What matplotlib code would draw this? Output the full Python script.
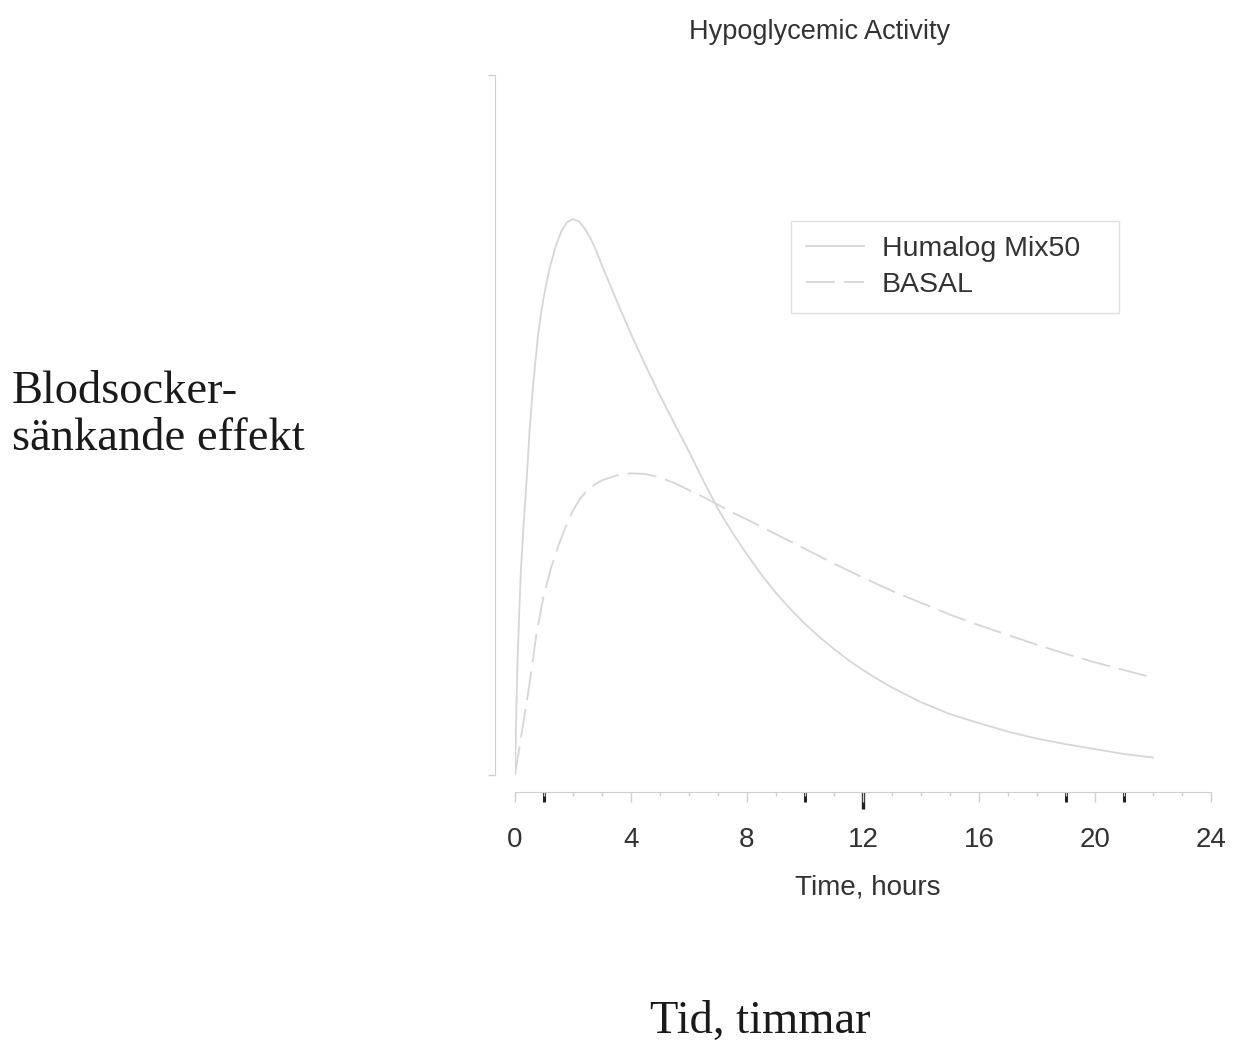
import matplotlib
matplotlib.use("Agg")
import matplotlib.pyplot as plt

# Humalog Mix50 activity
humalog_hours = [0, 0.05, 0.1, 0.2, 0.3, 0.4, 0.5, 0.6, 0.7, 0.8, 0.9, 1.0, 1.2,
                 1.4, 1.6, 1.8, 2.0, 2.2, 2.4, 2.6, 2.8, 3.0, 3.25, 3.5, 4.0, 4.5,
                 5.0, 5.5, 6.0, 6.5, 7.0, 7.5, 8.0, 8.5, 9.0, 9.5, 10, 10.5, 11,
                 11.5, 12, 12.5, 13, 14, 15, 16, 17, 18, 19, 20, 21, 22]
humalog_effect = [0, 0.1, 0.18, 0.29, 0.36, 0.42, 0.49, 0.545, 0.59, 0.63, 0.66,
                  0.685, 0.725, 0.755, 0.777, 0.79, 0.794, 0.791, 0.781, 0.767,
                  0.749, 0.728, 0.703, 0.678, 0.63, 0.585, 0.542, 0.502, 0.462,
                  0.42, 0.38, 0.346, 0.315, 0.286, 0.26, 0.237, 0.216, 0.197,
                  0.18, 0.164, 0.15, 0.137, 0.125, 0.104, 0.087, 0.074, 0.062,
                  0.052, 0.044, 0.037, 0.03, 0.025]

# BASAL activity
basal_hours = [0, 0.25, 0.5, 0.75, 1.0, 1.25, 1.5, 1.75, 2.0, 2.25, 2.5, 2.75, 3.0,
               3.5, 4.0, 4.5, 5.0, 5.5, 6.0, 6.5, 7.0, 7.5, 8.0, 9, 10, 11, 12,
               13, 14, 15, 16, 17, 18, 19, 20, 21, 22]
basal_effect = [0, 0.065, 0.13, 0.205, 0.258, 0.297, 0.328, 0.355, 0.378, 0.395,
                0.407, 0.415, 0.421, 0.428, 0.431, 0.43, 0.425, 0.417, 0.407,
                0.397, 0.386, 0.375, 0.365, 0.344, 0.323, 0.302, 0.282, 0.263,
                0.246, 0.229, 0.214, 0.2, 0.186, 0.173, 0.161, 0.15, 0.139]

x_ticks = [0, 4, 8, 12, 16, 20, 24]
marker_hours = [1, 10, 19, 21]
long_marker_hours = [12]

line_col = "#d6d6d6"
axis_col = "#cfcfcf"
sans = ["Liberation Sans", "DejaVu Sans"]
serif = ["Liberation Serif", "DejaVu Serif"]

fig = plt.figure(figsize=(12.37, 10.46), dpi=100)
ax = fig.add_axes([515 / 1237, 1 - 775 / 1046, 696 / 1237, 700 / 1046])

ax.plot(humalog_hours, humalog_effect, color=line_col, lw=1.3, label="Humalog Mix50")
ax.plot(basal_hours, basal_effect, color=line_col, lw=1.3, dashes=(16, 5), label="BASAL")

ax.set_xlim(0, 24)
ax.set_ylim(0, 1)

for s in ["top", "right"]:
    ax.spines[s].set_visible(False)
ax.spines["left"].set_position(("outward", 14.4))
ax.spines["bottom"].set_position(("axes", -0.0243))
ax.spines["left"].set_color(axis_col)
ax.spines["bottom"].set_color(axis_col)

ax.set_yticks([0, 1])
ax.set_yticklabels([])
ax.tick_params(axis="y", colors=axis_col, length=5, width=1)

ax.set_xticks(x_ticks)
ax.set_xticks(range(0, 25), minor=True)
ax.tick_params(axis="x", which="major", length=7, width=1, color=axis_col,
               labelcolor="#333333", labelsize=20, pad=18.5)
ax.tick_params(axis="x", which="minor", length=3, width=1, color=axis_col)
for lab in ax.get_xticklabels():
    lab.set_family(sans)

# dark marks on the time axis
sec = ax.secondary_xaxis(-0.0243)
sec.set_xticks(marker_hours)
sec.set_xticklabels([])
sec.tick_params(length=7.5, width=2.2, color="#222222")
sec.spines["bottom"].set_visible(False)
sec2 = ax.secondary_xaxis(-0.0243)
sec2.set_xticks(long_marker_hours)
sec2.set_xticklabels([])
sec2.tick_params(length=12, width=2.4, color="#222222")
sec2.spines["bottom"].set_visible(False)

leg = ax.legend(loc="upper left",
                bbox_to_anchor=(791 / 1237, 1 - 313 / 1046, 328 / 1237, 92 / 1046),
                bbox_transform=fig.transFigure, borderaxespad=0, fancybox=False,
                mode="expand", edgecolor="#e0e0e0", framealpha=1, handlelength=2.05,
                handletextpad=0.62, labelspacing=0.36, borderpad=0.52,
                prop={"family": sans, "size": 20.5})
leg.get_frame().set_linewidth(1)
for t in leg.get_texts():
    t.set_color("#333333")

fig.text(820 / 1237, 1 - 32 / 1046, "Hypoglycemic Activity", ha="center", va="center",
         family=sans, size=19.5, color="#333333")
fig.text(868 / 1237, 1 - 887 / 1046, "Time, hours", ha="center", va="center",
         family=sans, size=20, color="#333333")
fig.text(12 / 1237, 1 - 415 / 1046, "Blodsocker-\nsänkande effekt", ha="left",
         va="center", family=serif, size=33.5, color="#1a1a1a", linespacing=1.15)
fig.text(760 / 1237, 1 - 1022 / 1046, "Tid, timmar", ha="center", va="center",
         family=serif, size=33.5, color="#1a1a1a")

fig.savefig("out.png", dpi=100)
